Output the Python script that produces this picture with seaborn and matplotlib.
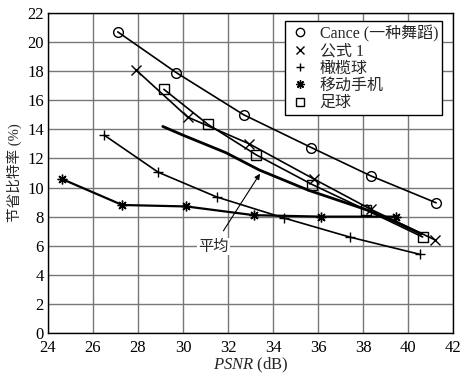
import pandas as pd
import seaborn as sns
from matplotlib import pyplot as plt
from matplotlib.lines import Line2D

# values
series = ['Cance (一种舞蹈)', '公式 1', '橄榄球', '移动手机', '足球']
markers = ['o', 'x', '+', (8, 2, 0), 's']

cance_x = [27.1, 29.7, 32.7, 35.7, 38.35, 41.25]
cance_y = [20.7, 17.9, 15.0, 12.75, 10.8, 8.95]

gongshi_x = [27.9, 30.2, 32.95, 35.8, 38.35, 41.2]
gongshi_y = [18.1, 14.85, 13.0, 10.6, 8.5, 6.4]

ganlan_x = [26.5, 28.9, 31.5, 34.5, 37.4, 40.55]
ganlan_y = [13.6, 11.05, 9.35, 7.9, 6.6, 5.4]

shouji_x = [24.6, 27.3, 30.15, 33.15, 36.15, 39.45]
shouji_y = [10.6, 8.8, 8.7, 8.1, 8.0, 8.0]

zuqiu_x = [29.15, 31.1, 33.25, 35.75, 38.15, 40.65]
zuqiu_y = [16.75, 14.35, 12.25, 10.2, 8.45, 6.6]

avg_x = [29.1, 30.0, 31.9, 33.4, 35.6, 38.2, 39.5, 40.6]
avg_y = [14.2, 13.6, 12.4, 11.2, 9.8, 8.45, 7.6, 6.8]

xs = [cance_x, gongshi_x, ganlan_x, shouji_x, zuqiu_x]
ys = [cance_y, gongshi_y, ganlan_y, shouji_y, zuqiu_y]

sns.set_theme(style='white')
plt.rcParams['font.family'] = ['Liberation Serif', 'Noto Sans CJK SC']
plt.rcParams['mathtext.fontset'] = 'custom'
plt.rcParams['mathtext.it'] = 'Liberation Serif:italic'
plt.rcParams['mathtext.rm'] = 'Liberation Serif'

fig = plt.figure(figsize=(4.63, 3.78), dpi=100)
ax = fig.add_axes([0.1037, 0.119, 0.8747, 0.8467])

for name, m, x, y in zip(series, markers, xs, ys):
    df = pd.DataFrame({'PSNR': x, 'rate': y})
    lw = 1.6 if name == '移动手机' else 1.2
    sns.lineplot(data=df, x='PSNR', y='rate', color='black', sort=False, ax=ax,
                 linewidth=lw, marker=m, markersize=7, markerfacecolor='none',
                 markeredgecolor='black', markeredgewidth=1.0)

df_avg = pd.DataFrame({'PSNR': avg_x, 'rate': avg_y})
sns.lineplot(data=df_avg, x='PSNR', y='rate', color='black', linewidth=2.0,
             sort=False, ax=ax)

ax.set_xlim(24, 42)
ax.set_ylim(0, 22)
ax.set_xticks(range(24, 43, 2))
ax.set_yticks(range(0, 23, 2))
ax.grid(True, color='#777777', linewidth=1.0)
ax.set_axisbelow(True)
for s in ax.spines.values():
    s.set_color('black')
    s.set_linewidth(1.0)
ax.tick_params(length=0, labelsize=12, colors='black')
ax.tick_params(axis='x', pad=5)
ax.tick_params(axis='y', pad=3)

ax.set_xlabel(r'$\it{PSNR}$ (dB)', fontsize=12, labelpad=0)
ax.set_ylabel('节省比特率 (%)', fontsize=10.5, labelpad=4)

ax.annotate('平均', xy=(33.42, 10.95), xytext=(31.35, 5.95),
            fontsize=11, ha='center', va='center',
            bbox=dict(boxstyle='square,pad=0.1', fc='white', ec='none'),
            arrowprops=dict(arrowstyle='-|>', color='black', lw=0.8,
                            shrinkA=6, shrinkB=0, mutation_scale=8))

handles = [Line2D([], [], color='black', marker=m, linestyle='none',
                  markersize=6, markerfacecolor='none', markeredgewidth=1.0)
           for m in markers]
leg = ax.legend(handles, series, loc='upper right', bbox_to_anchor=(0.973, 0.975),
                fontsize=11.5, frameon=True, fancybox=False, framealpha=1,
                edgecolor='black', handlelength=1.4, handletextpad=0.5,
                labelspacing=0.08, borderpad=0.25, borderaxespad=0)
leg.get_frame().set_linewidth(1.0)

plt.savefig('out.png', dpi=100)
